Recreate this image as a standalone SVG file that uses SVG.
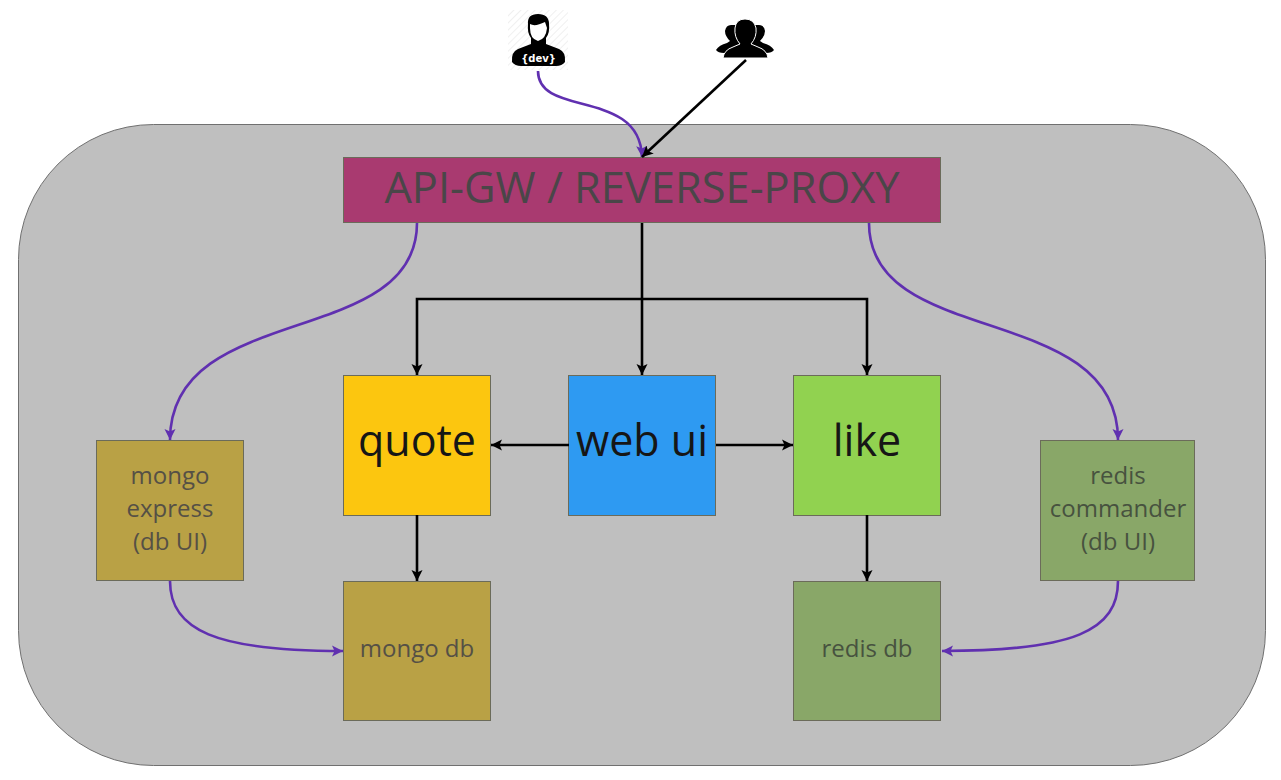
<svg xmlns="http://www.w3.org/2000/svg" width="1281" height="780" viewBox="0 0 1281 780">
<style>
text{font-family:"Open Sans","Noto Sans",sans-serif;text-anchor:middle}
.b{stroke:#6b6b5a;stroke-width:1}
.big{font-size:43px;fill:#161616}
.sm{font-size:24px}
.dim{fill:#555045}
.dim2{fill:#47523f}
.k{fill:none;stroke:#000;stroke-width:2.6}
.p{fill:none;stroke:#6030b0;stroke-width:2.6}
</style>
<defs>
<marker id="ak" markerUnits="userSpaceOnUse" markerWidth="14" markerHeight="14" refX="11" refY="6" orient="auto"><path d="M0,0.500L11,6L0,11.500L2.500,6Z" fill="#000"/></marker>
<marker id="ap" markerUnits="userSpaceOnUse" markerWidth="14" markerHeight="14" refX="11" refY="6" orient="auto"><path d="M0,0.500L11,6L0,11.500L2.500,6Z" fill="#6030b0"/></marker>
<pattern id="hatch" width="5" height="5" patternUnits="userSpaceOnUse" patternTransform="rotate(-45)"><rect width="5" height="5" fill="#fff"/><rect width="5" height="1" fill="#f0f0f0"/></pattern>
</defs>
<rect width="1281" height="780" fill="#fff"/>
<rect id="cluster" x="18.500" y="124.500" width="1247" height="641" rx="135" ry="135" fill="#bfbfbf" stroke="#707070"/>
<g id="api-gw"><rect class="b" x="343.500" y="157.500" width="597" height="65" fill="#a93a70"/><text x="642" y="203" font-size="43.400" fill="#4a4648">API-GW / REVERSE-PROXY</text></g>
<g id="quote"><rect class="b" x="343.500" y="375.500" width="147" height="140" fill="#fcc60f"/><text class="big" x="417" y="456">quote</text></g>
<g id="web-ui"><rect class="b" x="568.500" y="375.500" width="147" height="140" fill="#2e9af2"/><text class="big" x="642" y="456">web ui</text></g>
<g id="like"><rect class="b" x="793.500" y="375.500" width="147" height="140" fill="#91d250"/><text class="big" x="867" y="456">like</text></g>
<g id="mongo-express"><rect class="b" x="96.500" y="440.500" width="147" height="140" fill="#b9a145"/><text class="sm dim" x="170" y="484">mongo</text><text class="sm dim" x="170" y="517">express</text><text class="sm dim" x="170" y="550">(db UI)</text></g>
<g id="mongo-db"><rect class="b" x="343.500" y="581.500" width="147" height="139" fill="#b9a145"/><text class="sm dim" x="417" y="657">mongo db</text></g>
<g id="redis-commander"><rect class="b" x="1040.500" y="440.500" width="154" height="140" fill="#89a768"/><text class="sm dim2" x="1118" y="484">redis</text><text class="sm dim2" x="1118" y="517">commander</text><text class="sm dim2" x="1118" y="550">(db UI)</text></g>
<g id="redis-db"><rect class="b" x="793.500" y="581.500" width="147" height="139" fill="#89a768"/><text class="sm dim2" x="867" y="657">redis db</text></g>
<g id="dev">
<rect x="508" y="10" width="60" height="60" fill="url(#hatch)"/>
<path d="M512,62 Q511,52 518,49 L531,44 L531,38 Q527,33 528,24 Q527,14 538,14 Q549,14 549,24 Q550,33 546,38 L546,44 L559,49 Q566,52 565,62 Q562,66 556,66 L521,66 Q515,66 512,62Z" fill="#000"/>
<path d="M530,24 Q535,27 545,22 L547,28 Q546,39 538,41 Q530,39 530,28Z" fill="#fff"/>
<text x="538.500" y="62" font-size="10" font-weight="700" fill="#fff" style="font-family:'DejaVu Sans',sans-serif">{dev}</text>
</g>
<g id="users">
<path d="M716,50 Q719,45 727,43 L730,41 Q725,36 725,31 Q726,25 731,25 L759,25 Q764,25 765,31 Q765,36 760,41 L763,43 Q771,45 774,50 Q772,53 766,53 L724,53 Q718,53 716,50Z" fill="#000"/>
<path d="M723,58 Q724,50 733,47 L740,44 Q734,37 735,28 Q736,19 745,19 Q754,19 756,28 Q757,37 751,44 L758,47 Q767,50 768,58 Z" fill="#000" stroke="#fff" stroke-width="1"/>
</g>
<g id="connectors">
<path class="p" marker-end="url(#ap)" d="M538,71 C538,118 640,88 642,157"/>
<path class="k" marker-end="url(#ak)" d="M746,60 L642,157"/>
<path class="k" marker-end="url(#ak)" d="M642,223 V375"/>
<path class="k" marker-end="url(#ak)" d="M642,299 H417 V375"/>
<path class="k" marker-end="url(#ak)" d="M642,299 H867 V375"/>
<path class="k" marker-end="url(#ak)" d="M569,445 H491"/>
<path class="k" marker-end="url(#ak)" d="M716,445 H793"/>
<path class="k" marker-end="url(#ak)" d="M417,515 V581"/>
<path class="k" marker-end="url(#ak)" d="M867,515 V581"/>
<path class="p" marker-end="url(#ap)" d="M417,223 C417,350 170,300 170,440"/>
<path class="p" marker-end="url(#ap)" d="M869,223 C869,350 1118,300 1118,440"/>
<path class="p" marker-end="url(#ap)" d="M170,581 C170,630 215,651 343,651"/>
<path class="p" marker-end="url(#ap)" d="M1118,581 C1118,630 1075,651 942,651"/>
</g>
</svg>
